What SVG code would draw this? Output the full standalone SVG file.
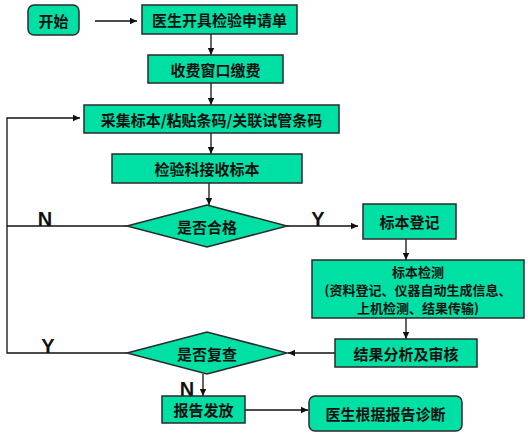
<svg xmlns="http://www.w3.org/2000/svg" width="528" height="436" viewBox="0 0 528 436">
<style>
.b{fill:#00e0a4;stroke:#2a2a2a;stroke-width:1.5}
.t{font-family:"Noto Sans CJK SC","Liberation Sans",sans-serif;font-weight:bold;font-size:15px;fill:#111;text-anchor:middle;dominant-baseline:central}
.s{font-size:13px}
.l{font-family:"Liberation Sans",Arial,sans-serif;font-weight:bold;font-size:20px;fill:#111;text-anchor:middle}
.c{fill:none;stroke:#111;stroke-width:1.3}
</style>
<defs>
<marker id="a" markerWidth="8" markerHeight="8" refX="7" refY="4" orient="auto" markerUnits="userSpaceOnUse">
<path d="M0,0.8 L7,4 L0,7.2 Z" fill="#111"/>
</marker>
</defs>
<rect width="528" height="436" fill="#fff"/>
<g id="connectors">
<line class="c" x1="95" y1="21" x2="137" y2="21" marker-end="url(#a)"/>
<line class="c" x1="211" y1="34" x2="211" y2="55" marker-end="url(#a)"/>
<line class="c" x1="211" y1="83" x2="211" y2="105" marker-end="url(#a)"/>
<line class="c" x1="211" y1="133" x2="211" y2="154" marker-end="url(#a)"/>
<line class="c" x1="209" y1="183" x2="209" y2="205" marker-end="url(#a)"/>
<polyline class="c" points="127,226 7,226"/>
<polyline class="c" points="127,353 7,353 7,118 80,118" marker-end="url(#a)"/>
<line class="c" x1="287" y1="226" x2="358" y2="226" marker-end="url(#a)"/>
<line class="c" x1="406" y1="239" x2="406" y2="260" marker-end="url(#a)"/>
<line class="c" x1="406" y1="318" x2="406" y2="339" marker-end="url(#a)"/>
<line class="c" x1="335" y1="353" x2="288" y2="353" marker-end="url(#a)"/>
<line class="c" x1="203" y1="374" x2="203" y2="396" marker-end="url(#a)"/>
<line class="c" x1="245" y1="410" x2="308" y2="410" marker-end="url(#a)"/>
<text class="l" x="45" y="226">N</text>
<text class="l" x="318" y="226">Y</text>
<text class="l" x="48" y="353">Y</text>
<text class="l" x="187" y="396">N</text>
</g>
<g id="start"><rect class="b" x="28" y="5" width="51" height="30" rx="6"/><text class="t" x="53.5" y="20">开始</text></g>
<g id="request"><rect class="b" x="142" y="5" width="155" height="29"/><text class="t" x="219.5" y="19.5">医生开具检验申请单</text></g>
<g id="pay"><rect class="b" x="148" y="55" width="135" height="28"/><text class="t" x="215.5" y="69">收费窗口缴费</text></g>
<g id="collect"><rect class="b" x="84" y="105" width="255" height="28"/><text class="t" x="211.5" y="119">采集标本/粘贴条码/关联试管条码</text></g>
<g id="receive"><rect class="b" x="112" y="154" width="190" height="29"/><text class="t" x="207" y="168.5">检验科接收标本</text></g>
<g id="qualified"><polygon class="b" points="127,226 207,205 287,226 207,247"/><text class="t" x="207" y="226">是否合格</text></g>
<g id="register"><rect class="b" x="363" y="204" width="93" height="35"/><text class="t" x="409.5" y="221.5">标本登记</text></g>
<g id="test"><rect class="b" x="312" y="260" width="212" height="58"/>
<text class="t s" x="418" y="271">标本检测</text>
<text class="t s" x="418" y="289">(资料登记、仪器自动生成信息、</text>
<text class="t s" x="418" y="307">上机检测、结果传输)</text></g>
<g id="review"><rect class="b" x="335" y="339" width="142" height="28"/><text class="t" x="406" y="353">结果分析及审核</text></g>
<g id="recheck"><polygon class="b" points="127,353 207,332 287,353 207,374"/><text class="t" x="207" y="353">是否复查</text></g>
<g id="issue"><rect class="b" x="162" y="396" width="83" height="27"/><text class="t" x="203.5" y="409.5">报告发放</text></g>
<g id="diagnose"><rect class="b" x="309" y="396" width="153" height="35" rx="6"/><text class="t" x="385.5" y="413.5">医生根据报告诊断</text></g>
</svg>
